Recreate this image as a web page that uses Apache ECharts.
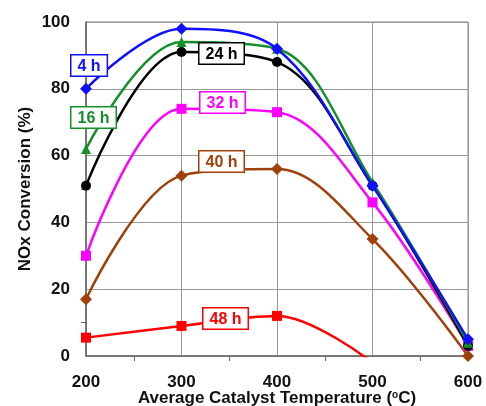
<!DOCTYPE html>
<html>
<head>
<meta charset="utf-8">
<script src="https://cdn.jsdelivr.net/npm/echarts@6/dist/echarts.min.js"></script>
<style>
html, body { margin: 0; padding: 0; background: #fff; }
#chart { width: 486px; height: 406px; }
</style>
</head>
<body>
<div id="chart"></div>
<script>
////////////////////
// data
////////////////////
var temps = [200, 300, 400, 500, 600];
var names = ['4 h', '16 h', '24 h', '32 h', '40 h', '48 h'];
var conv_4h = [80, 98, 92, 51, 5];
var conv_16h = [62, 94, 92, 52, 4];
var conv_24h = [51, 91, 88, 51, 3];
var conv_32h = [30, 74, 73, 46, 3];
var conv_40h = [17, 54, 56, 35, 0];
var conv_48h = [5.5, 9, 12, -2];

var colors = ['#1010ff', '#14902a', '#000000', '#ff00ff', '#a0400a', '#ff0000'];
var symbols = ['diamond', 'triangle', 'circle', 'rect', 'diamond', 'rect'];
var all_data = [conv_4h, conv_16h, conv_24h, conv_32h, conv_40h, conv_48h];

var font = 'Liberation Sans, Arial, sans-serif';

function pairs(arr){
    var out = [];
    for(var i=0; i<arr.length; i++){
        out.push([temps[i], arr[i]]);
    }
    return out;
}

var series = [];
for(var i=0; i<names.length; i++){
    series.push({
        name: names[i],
        type: 'line',
        smooth: 0.35,
        clip: true,
        data: pairs(all_data[i]),
        symbol: symbols[i],
        symbolSize: symbols[i] == 'diamond' ? 12 : 10,
        lineStyle: { color: colors[i], width: 2.5 },
        itemStyle: { color: colors[i] },
        z: 10 - i
    });
}

// label boxes sitting on the curves: [series index, left, top]
var boxes = [
    [0, 70, 54],
    [1, 70, 106],
    [2, 198, 42],
    [3, 199, 91],
    [4, 198, 150],
    [5, 202, 307]
];
var graphics = [];
boxes.forEach(function(b){
    var c = colors[b[0]];
    graphics.push({
        type: 'text',
        left: b[1],
        top: b[2],
        z: 100,
        style: {
            text: names[b[0]],
            fill: c,
            font: 'bold 16px ' + font,
            backgroundColor: '#fff',
            borderColor: c,
            borderWidth: 1.5,
            padding: [3, 6, 1, 6]
        }
    });
});

var mychart = echarts.init(document.getElementById('chart'));
var chart_option = {
    animation: false,
    backgroundColor: '#fff',
    grid: { left: 86, right: 18, top: 22, bottom: 50, show: true, borderColor: '#888', borderWidth: 1, outerBoundsMode: 'none', containLabel: false },
    xAxis: {
        type: 'value',
        min: 200,
        max: 600,
        interval: 100,
        name: 'Average Catalyst Temperature ({s|o}C)',
        nameLocation: 'middle',
        nameGap: 34,
        nameMoveOverlap: false,
        nameTextStyle: {
            fontFamily: font, fontWeight: 'bold', fontSize: 17, color: '#111',
            rich: { s: { fontSize: 10, fontWeight: 'bold', fontFamily: font, color: '#111', verticalAlign: 'top', padding: [0, 0, 7, 0] } }
        },
        axisLine: { lineStyle: { color: '#666', width: 1.5 } },
        axisTick: { show: false },
        minorTick: { show: true, splitNumber: 2, length: 5, lineStyle: { color: '#666' } },
        axisLabel: { fontFamily: font, fontWeight: 'bold', fontSize: 17, color: '#111', margin: 18 },
        splitLine: { show: true, lineStyle: { color: '#999', width: 1 } }
    },
    yAxis: {
        type: 'value',
        min: 0,
        max: 100,
        interval: 20,
        name: 'NOx Conversion (%)',
        nameLocation: 'middle',
        nameGap: 52,
        nameMoveOverlap: false,
        nameTextStyle: { fontFamily: font, fontWeight: 'bold', fontSize: 17, color: '#111' },
        axisLine: { lineStyle: { color: '#666', width: 1.5 } },
        axisTick: { show: false },
        minorTick: { show: true, splitNumber: 2, length: 5, lineStyle: { color: '#666' } },
        axisLabel: { fontFamily: font, fontWeight: 'bold', fontSize: 17, color: '#111', margin: 16 },
        splitLine: { show: true, lineStyle: { color: '#999', width: 1 } }
    },
    series: series,
    graphic: graphics
};
mychart.setOption(chart_option);
</script>
</body>
</html>
